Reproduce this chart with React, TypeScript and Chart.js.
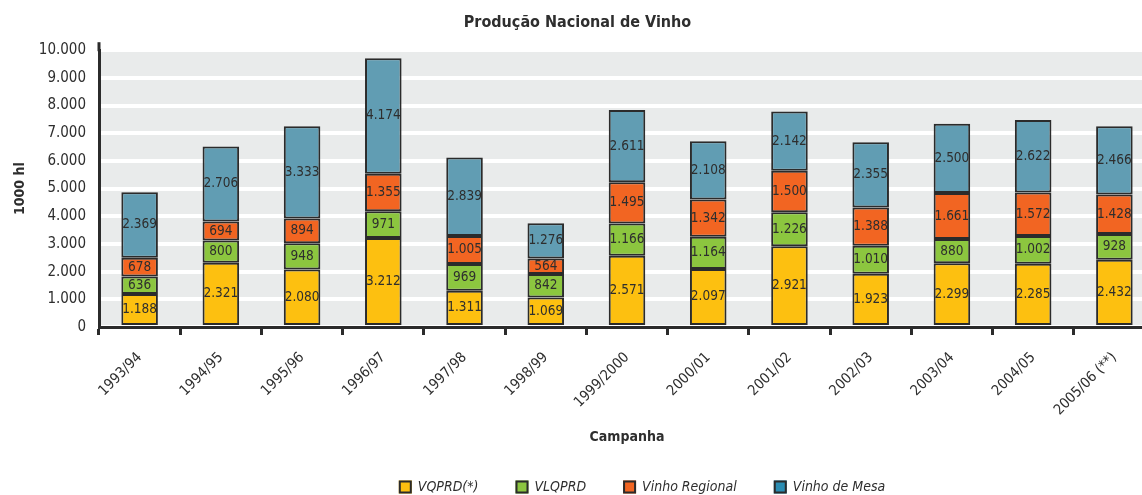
import React, { useEffect, useRef } from 'react';
import { Chart, registerables } from 'chart.js';

Chart.register(...registerables);

const categories = ['1993/94', '1994/95', '1995/96', '1996/97', '1997/98', '1998/99', '1999/2000', '2000/01', '2001/02', '2002/03', '2003/04', '2004/05', '2005/06 (**)'];
const vqprd = [1188, 2321, 2080, 3212, 1311, 1069, 2571, 2097, 2921, 1923, 2299, 2285, 2432];
const vlqprd = [636, 800, 948, 971, 969, 842, 1166, 1164, 1226, 1010, 880, 1002, 928];
const vinhoRegional = [678, 694, 894, 1355, 1005, 564, 1495, 1342, 1500, 1388, 1661, 1572, 1428];
const vinhoMesa = [2369, 2706, 3333, 4174, 2839, 1276, 2611, 2108, 2142, 2355, 2500, 2622, 2466];
const seriesNames = ['VQPRD(*)', 'VLQPRD', 'Vinho Regional', 'Vinho de Mesa'];
const seriesColors = ['#fdc010', '#8cc63f', '#f26522', '#619db3'];
const legendColors = ['#fdc010', '#8cc63f', '#f26522', '#2a8db3'];
const yMax = 10000;
const yStep = 1000;

const FONT = "'Liberation Sans Narrow', 'DejaVu Sans Condensed', 'Arial Narrow', sans-serif";
const TEXT = '#2e2e2e';
const DARK = '#2b2b2b';

function fmt(v: number): string {
  return String(v).replace(/\B(?=(\d{3})+(?!\d))/g, '.');
}

const bgPlugin = {
  id: 'bgPlugin',
  beforeDraw(chart: any) {
    const { ctx, chartArea } = chart;
    if (!chartArea) return;
    ctx.save();
    ctx.fillStyle = '#e9ebeb';
    ctx.fillRect(chartArea.left, chartArea.top, chartArea.right - chartArea.left, chartArea.bottom - chartArea.top);
    ctx.restore();
  },
  afterDraw(chart: any) {
    const { ctx, chartArea } = chart;
    ctx.save();
    ctx.strokeStyle = DARK;
    ctx.lineWidth = 3;
    ctx.beginPath();
    ctx.moveTo(chartArea.left, chartArea.top - 8);
    ctx.lineTo(chartArea.left, chartArea.top + 1);
    ctx.stroke();
    ctx.restore();
  },
};

const valuePlugin = {
  id: 'valuePlugin',
  afterDatasetsDraw(chart: any) {
    const { ctx } = chart;
    ctx.save();
    ctx.font = `13.5px ${FONT}`;
    ctx.fillStyle = TEXT;
    ctx.textAlign = 'center';
    ctx.textBaseline = 'middle';
    chart.data.datasets.forEach((ds: any, i: number) => {
      const meta = chart.getDatasetMeta(i);
      meta.data.forEach((el: any, j: number) => {
        const p = el.getProps(['x', 'y', 'base'], true);
        ctx.fillText(fmt(ds.data[j]), p.x, (p.y + p.base) / 2);
      });
    });
    ctx.restore();
  },
};

const legendPlugin = {
  id: 'legendPlugin',
  afterDraw(chart: any) {
    const { ctx } = chart;
    const box = 13;
    const gapText = 6;
    const gapItem = 37;
    const centerX = 642;
    const cy = 487;
    ctx.save();
    ctx.font = `italic 14px ${FONT}`;
    const widths = seriesNames.map((n) => ctx.measureText(n).width);
    const total = widths.reduce((a, w) => a + box + gapText + w, 0) + gapItem * (seriesNames.length - 1);
    let x = centerX - total / 2;
    seriesNames.forEach((name, i) => {
      ctx.fillStyle = legendColors[i];
      ctx.fillRect(x, cy - box / 2, box, box);
      ctx.strokeStyle = DARK;
      ctx.lineWidth = 2;
      ctx.strokeRect(x + 1, cy - box / 2 + 1, box - 2, box - 2);
      ctx.fillStyle = TEXT;
      ctx.textAlign = 'left';
      ctx.textBaseline = 'middle';
      ctx.fillText(name, x + box + gapText, cy);
      x += box + gapText + widths[i] + gapItem;
    });
    ctx.restore();
  },
};

export default function App() {
  const ref = useRef<HTMLCanvasElement | null>(null);

  useEffect(() => {
    if (!ref.current) return;
    const series = [vqprd, vlqprd, vinhoRegional, vinhoMesa];
    const chart = new Chart(ref.current, {
      type: 'bar',
      data: {
        labels: categories,
        datasets: series.map((data, i) => ({
          label: seriesNames[i],
          data,
          backgroundColor: seriesColors[i],
          borderColor: DARK,
          borderWidth: 2,
          borderSkipped: false,
          barPercentage: 0.45,
          categoryPercentage: 1,
        })),
      },
      options: {
        responsive: false,
        animation: false,
        devicePixelRatio: 1,
        layout: { padding: { left: 0, right: 5, top: 0, bottom: 40 } },
        plugins: {
          legend: { display: false },
          tooltip: { enabled: false },
          title: {
            display: true,
            text: 'Produção Nacional de Vinho',
            color: TEXT,
            font: { family: FONT, size: 16, weight: 'bold' },
            padding: { top: 13, bottom: 18 },
          },
        },
        scales: {
          x: {
            stacked: true,
            grid: { drawOnChartArea: false, color: DARK, lineWidth: 3, tickLength: 8, offset: true },
            border: { color: DARK, width: 3, z: 1 },
            ticks: {
              color: TEXT,
              font: { family: FONT, size: 14.5 },
              minRotation: 45,
              maxRotation: 45,
              autoSkip: false,
              padding: 14,
            },
            title: {
              display: true,
              text: 'Campanha',
              color: TEXT,
              font: { family: FONT, size: 14, weight: 'bold' },
              padding: { top: 0, bottom: 9 },
            },
            afterFit: (s: any) => { s.height = 128; },
          },
          y: {
            stacked: true,
            min: 0,
            max: yMax,
            ticks: {
              stepSize: yStep,
              callback: (v: any) => fmt(Number(v)),
              color: TEXT,
              font: { family: FONT, size: 15 },
              padding: 13,
            },
            grid: { color: '#ffffff', lineWidth: 4, drawTicks: false },
            border: { color: DARK, width: 3, z: 1 },
            title: {
              display: true,
              text: '1000 hl',
              color: TEXT,
              font: { family: FONT, size: 14, weight: 'bold' },
              padding: { top: 12, bottom: 0 },
            },
            afterFit: (s: any) => { s.width = 99; },
          },
        },
      } as any,
      plugins: [bgPlugin, valuePlugin, legendPlugin],
    });
    return () => chart.destroy();
  }, []);

  return (
    <div style={{ position: 'absolute', left: 0, top: 0, width: 1142, height: 495, overflow: 'hidden', background: '#fff' }}>
      <canvas ref={ref} width={1160} height={495} style={{ display: 'block' }} />
    </div>
  );
}
